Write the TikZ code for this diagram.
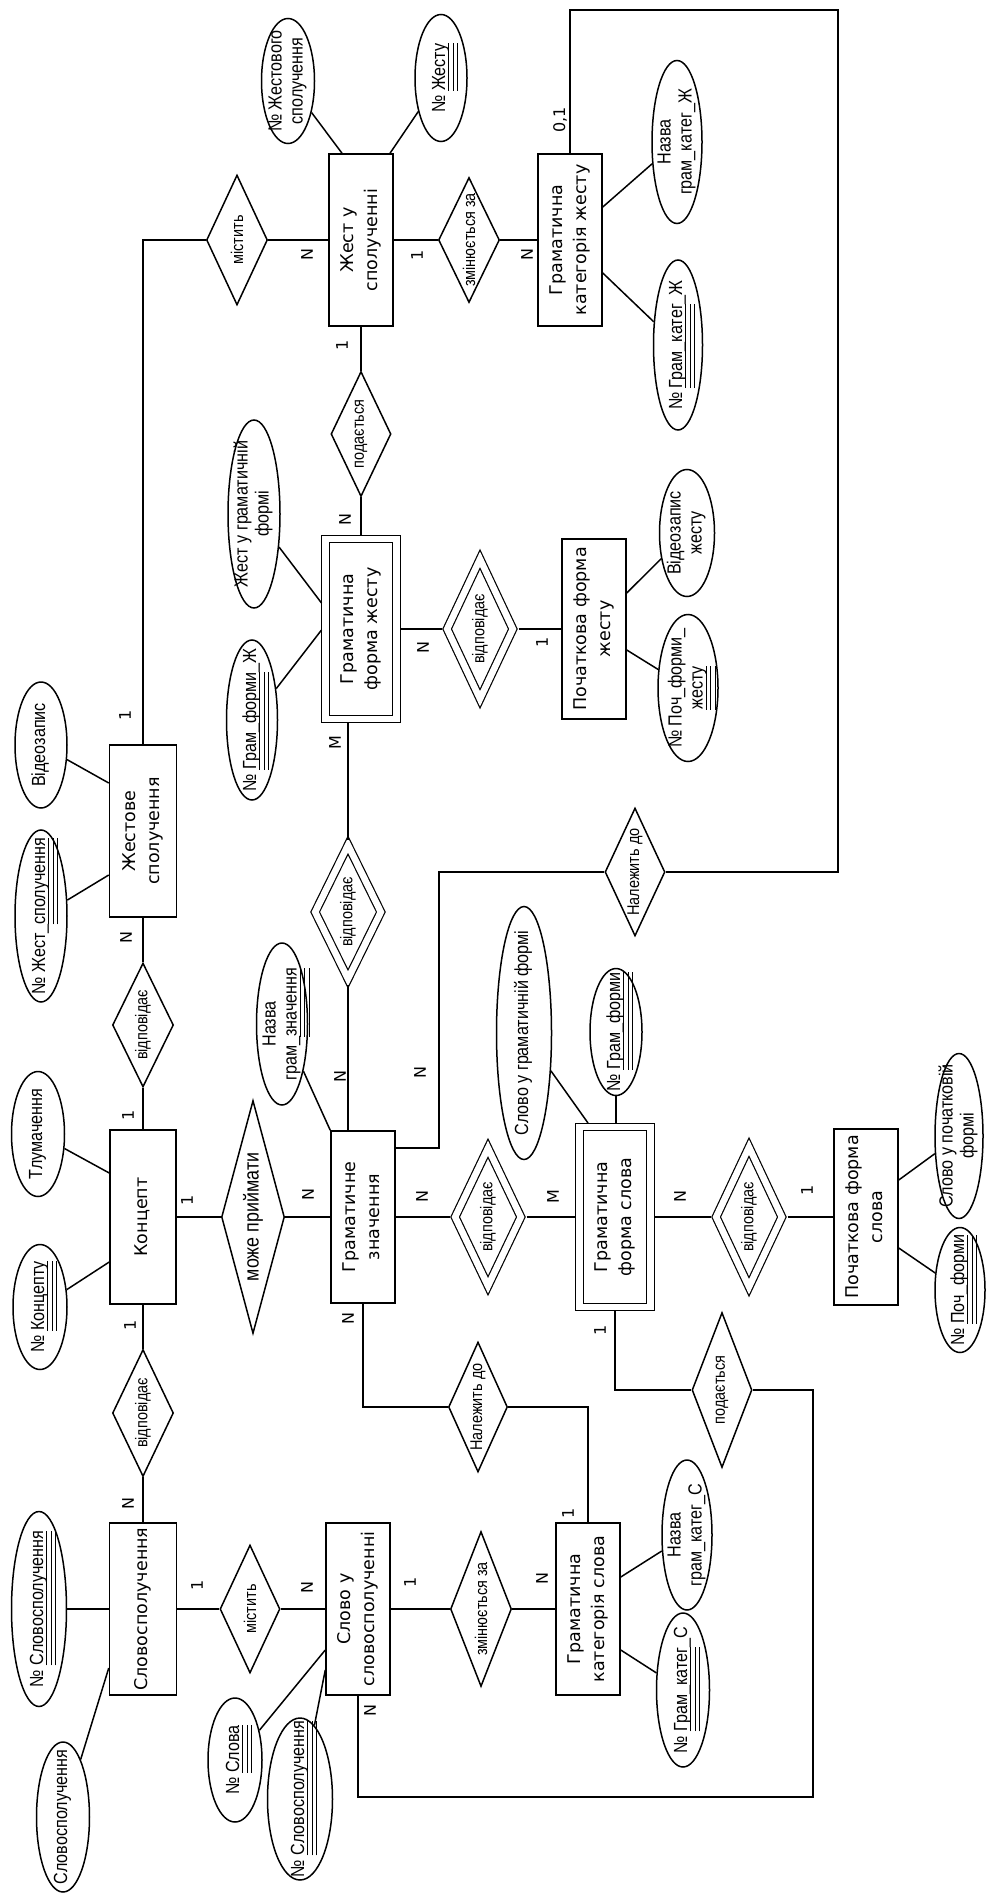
\documentclass[tikz,border=0pt]{standalone}
\usepackage{fontspec}
\setmainfont{DejaVu Sans}
\newfontfamily\narrowsans[FakeStretch=0.85]{Liberation Sans}
\usetikzlibrary{shapes.geometric}

\newcommand{\entfont}{\fontsize{17.5}{24}\selectfont}
\newcommand{\relfont}{\narrowsans\fontsize{17}{19}\selectfont}
\newcommand{\bigrelfont}{\narrowsans\fontsize{21}{23}\selectfont}
\newcommand{\attfont}{\narrowsans\fontsize{19}{21}\selectfont}
\newcommand{\cardfont}{\fontsize{16}{18}\selectfont}
\newcommand{\ctext}[1]{\makebox[0pt]{\begin{tabular}{@{}c@{}}#1\end{tabular}}}
\newsavebox{\keybox}
\newcommand{\keyu}[1]{\leavevmode\sbox{\keybox}{#1}%
  \smash{\rlap{\vrule width\wd\keybox height -3pt depth 4pt}%
  \rlap{\vrule width\wd\keybox height -7.5pt depth 8.5pt}%
  \rlap{\vrule width\wd\keybox height -12pt depth 13pt}}\usebox{\keybox}}

\begin{document}
\begin{tikzpicture}[x=1pt, y=-1pt, line width=1.5pt,
  entity/.style={draw, rectangle, rotate=90, minimum width=172pt, minimum height=64pt, inner sep=0pt, font=\entfont},
  weak/.style={entity, double, double distance=6.5pt, line width=1.2pt, minimum width=180pt, minimum height=71pt, outer sep=4pt},
  rel/.style={draw, diamond, rotate=90, aspect=2, inner sep=0pt, font=\relfont, minimum width=128pt, minimum height=61pt},
  weakrel/.style={rel, double, double distance=6.5pt, line width=1.2pt, outer sep=4pt, minimum width=142pt, minimum height=69pt},
  attr/.style={draw, ellipse, rotate=90, inner xsep=0pt, inner ysep=-8pt, font=\attfont},
  card/.style={rotate=90, inner sep=0pt, font=\cardfont}]
  \useasboundingbox (0,0) rectangle (986,1894);

  % Entities
  \node[entity] (jsp) at (361,240) {\ctext{Жест у\\сполученні}};
  \node[entity] (gkj) at (570,240) {\ctext{Граматична\\категорія жесту}};
  \node[weak] (gfj) at (361,629) {\ctext{Граматична\\форма жесту}};
  \node[entity, minimum width=180pt] (pfj) at (594,629) {\ctext{Початкова форма\\жесту}};
  \node[entity, minimum height=67pt] (zs) at (143,831) {\ctext{Жестове\\сполучення}};
  \node[entity, minimum width=174pt, minimum height=66pt] (kon) at (143,1217) {\ctext{Концепт}};
  \node[entity] (gz) at (363,1217) {\ctext{Граматичне\\значення}};
  \node[weak] (gfs) at (615,1217) {\ctext{Граматична\\форма слова}};
  \node[entity, minimum width=176pt] (pfs) at (866,1217) {\ctext{Початкова форма\\слова}};
  \node[entity, minimum height=67pt] (ss) at (143,1609) {\ctext{Словосполучення}};
  \node[entity] (sus) at (358,1609) {\ctext{Слово у\\словосполученні}};
  \node[entity] (gks) at (588,1609) {\ctext{Граматична\\категорія слова}};

  % Relationships
  \node[rel, minimum width=130pt] (mis1) at (237,240) {містить};
  \node[rel, minimum width=125pt] (zm1) at (469,240) {змінюється за};
  \node[rel, minimum width=125pt, minimum height=60pt] (pod1) at (361,434) {подається};
  \node[weakrel, minimum width=143pt] (dv1) at (480,629) {відповідає};
  \node[weakrel, minimum width=137pt] (dv2) at (348,912) {відповідає};
  \node[rel, minimum width=128pt, minimum height=60pt] (nal1) at (635,872) {Належить до};
  \node[rel, minimum width=124pt] (vk) at (143,1025) {відповідає};
  \node[rel, aspect=3.7, minimum width=233pt, minimum height=63pt, font=\bigrelfont] (mp) at (253,1217) {може приймати};
  \node[weakrel, minimum width=141pt] (dv3) at (488,1217) {відповідає};
  \node[weakrel, minimum width=143pt] (dv4) at (749,1217) {відповідає};
  \node[rel, minimum width=130pt, minimum height=59pt] (nal2) at (478,1407) {Належить до};
  \node[rel, aspect=2.5, minimum width=155pt, minimum height=60pt] (pod2) at (722,1390) {подається};
  \node[rel, minimum width=127pt] (vs) at (143,1413) {відповідає};
  \node[rel, minimum width=128pt, minimum height=60pt] (mis2) at (250,1609) {містить};
  \node[rel, aspect=2.5, minimum width=155pt] (zm2) at (481,1609) {змінюється за};

  % Attributes
  \node[attr, minimum width=125pt, minimum height=53pt] (njs) at (288,81) {\ctext{№ Жестового\\сполучення}};
  \node[attr, minimum width=127pt, minimum height=52pt] (nj) at (441,78) {\ctext{№ \keyu{Жесту}}};
  \node[attr, minimum width=163pt, minimum height=50pt] (ngkjn) at (677,142) {\ctext{Назва\\грам\_катег\_Ж}};
  \node[attr, minimum width=170pt, minimum height=49pt] (ngkj) at (678,345) {\ctext{№ \keyu{Грам\_катег}\_Ж}};
  \node[attr, minimum width=188pt, minimum height=52pt] (jgf) at (254,514) {\ctext{Жест у граматичній\\формі}};
  \node[attr, minimum width=160pt, minimum height=51pt] (ngfj) at (252,720) {\ctext{№ \keyu{Грам\_форми}\_Ж}};
  \node[attr, minimum width=127pt, minimum height=55pt] (vzj) at (687,533) {\ctext{Відеозапис\\жесту}};
  \node[attr, minimum width=147pt, minimum height=60pt] (npfj) at (688,688) {\ctext{№ Поч\_форми\_\\\keyu{жесту}}};
  \node[attr, minimum width=126pt, minimum height=52pt] (vz) at (41,745) {\ctext{Відеозапис}};
  \node[attr, minimum width=172pt, minimum height=52pt] (nzs) at (41,916) {\ctext{№ Жест\_\keyu{сполучення}}};
  \node[attr, minimum width=125pt, minimum height=53pt] (tl) at (38,1134) {\ctext{Тлумачення}};
  \node[attr, minimum width=125pt, minimum height=54pt] (nk) at (40,1307) {\ctext{№ \keyu{Концепту}}};
  \node[attr, minimum width=162pt, minimum height=51pt] (ngz) at (282,1024) {\ctext{Назва\\грам\_\keyu{значення}}};
  \node[attr, minimum width=253pt, minimum height=55pt] (sgf) at (524,1033) {\ctext{Слово у граматичній формі}};
  \node[attr, minimum width=127pt, minimum height=52pt] (ngf) at (616,1032) {\ctext{№ \keyu{Грам\_форми}}};
  \node[attr, minimum width=165pt, minimum height=48pt] (spf) at (959,1136) {\ctext{Слово у початковій\\формі}};
  \node[attr, minimum width=125pt, minimum height=50pt] (npf) at (960,1290) {\ctext{№ \keyu{Поч\_форми}}};
  \node[attr, minimum width=195pt, minimum height=55pt] (nss) at (39,1609) {\ctext{№ \keyu{Словосполучення}}};
  \node[attr, minimum width=150pt, minimum height=53pt] (ssa) at (63,1817) {\ctext{Словосполучення}};
  \node[attr, minimum width=124pt, minimum height=54pt] (ns) at (235,1760) {\ctext{№ \keyu{Слова}}};
  \node[attr, minimum width=162pt, minimum height=65pt] (nss2) at (300,1799) {\ctext{№ \keyu{Словосполучення}}};
  \node[attr, minimum width=150pt, minimum height=50pt] (ngksn) at (687,1535) {\ctext{Назва\\грам\_катег\_С}};
  \node[attr, minimum width=154pt, minimum height=53pt] (ngks) at (683,1690) {\ctext{№ \keyu{Грам\_катег}\_С}};

  % Corners of the long connectors
  \coordinate (loopR) at (838,10);
  \coordinate (loopB) at (813,1797);

  % Connectors between entities and relationships
  \draw (zs.east) |- (mis1.north);
  \draw (mis1) -- (jsp);
  \draw (jsp) -- (zm1);
  \draw (zm1) -- (gkj);
  \draw (jsp) -- (pod1);
  \draw (pod1) -- (gfj);
  \draw (gfj) -- (dv1);
  \draw (dv1) -- (pfj);
  \draw (dv2.east) -- (dv2.east |- gfj.west);
  \draw (dv2.west) -- (dv2.west |- gz.east);
  \draw (gz.south |- 0,1148) -- ++(43,0) |- (nal1.north);
  \draw (nal1.south) -| (loopR) -| (gkj.east);
  \draw (zs) -- (vk);
  \draw (vk) -- (kon);
  \draw (kon) -- (vs);
  \draw (vs) -- (ss);
  \draw (kon) -- (mp);
  \draw (mp) -- (gz);
  \draw (gz) -- (dv3);
  \draw (dv3) -- (gfs);
  \draw (gfs) -- (dv4);
  \draw (dv4) -- (pfs);
  \draw (gz.west) |- (nal2.north);
  \draw (nal2.south) -| (gks.east);
  \draw (gfs.west) |- (pod2.north);
  \draw (sus.west) |- (loopB) |- (pod2.south);
  \draw (ss) -- (mis2);
  \draw (mis2) -- (sus);
  \draw (sus) -- (zm2);
  \draw (zm2) -- (gks);

  % Attribute links
  \draw (njs) -- (jsp.east -| 342,0);
  \draw (nj) -- (jsp.east -| 390,0);
  \draw (ngkjn) -- (gkj.south |- 0,207);
  \draw (ngkj) -- (gkj.south |- 0,273);
  \draw (jgf) -- (gfj.north |- 0,603);
  \draw (ngfj) -- (gfj.north |- 0,630);
  \draw (vzj) -- (pfj.south |- 0,593);
  \draw (npfj) -- (pfj.south |- 0,650);
  \draw (vz) -- (zs.north |- 0,783);
  \draw (nzs) -- (zs.north |- 0,875);
  \draw (tl) -- (kon.north |- 0,1173);
  \draw (nk) -- (kon.north |- 0,1262);
  \draw (ngz) -- (gz.north east);
  \draw (sgf) -- (gfs.east -| 588,0);
  \draw (ngf) -- (gfs.east -| ngf);
  \draw (spf) -- (pfs.south |- 0,1180);
  \draw (npf) -- (pfs.south |- 0,1248);
  \draw (nss) -- (ss.north |- 0,1609);
  \draw (ssa) -- (ss.north |- 0,1668);
  \draw (ns) -- (sus.north |- 0,1650);
  \draw (nss2) -- (sus.north |- 0,1670);
  \draw (ngksn) -- (gks.south |- 0,1577);
  \draw (ngks) -- (gks.south |- 0,1650);

  % Cardinalities
  \node[card] (c1) at (125,715) {1};
  \node[card] (c2) at (307,255) {N};
  \node[card] (c3) at (417,255) {1};
  \node[card] (c4) at (527,255) {N};
  \node[card] (c5) at (560,120) {0,1};
  \node[card] (c6) at (342,345) {1};
  \node[card] (c7) at (345,520) {N};
  \node[card] (c8) at (423,648) {N};
  \node[card] (c9) at (542,642) {1};
  \node[card] (c10) at (335,743) {M};
  \node[card] (c11) at (340,1077) {N};
  \node[card] (c12) at (420,1073) {N};
  \node[card] (c13) at (126,938) {N};
  \node[card] (c14) at (128,1115) {1};
  \node[card] (c15) at (187,1200) {1};
  \node[card] (c16) at (308,1195) {N};
  \node[card] (c17) at (422,1197) {N};
  \node[card] (c18) at (553,1197) {M};
  \node[card] (c19) at (680,1197) {N};
  \node[card] (c20) at (807,1190) {1};
  \node[card] (c21) at (130,1325) {1};
  \node[card] (c22) at (128,1503) {N};
  \node[card] (c23) at (348,1318) {N};
  \node[card] (c24) at (600,1330) {1};
  \node[card] (c25) at (197,1585) {1};
  \node[card] (c26) at (307,1587) {N};
  \node[card] (c27) at (410,1582) {1};
  \node[card] (c28) at (542,1578) {N};
  \node[card] (c29) at (568,1513) {1};
  \node[card] (c30) at (370,1710) {N};
\end{tikzpicture}
\end{document}
